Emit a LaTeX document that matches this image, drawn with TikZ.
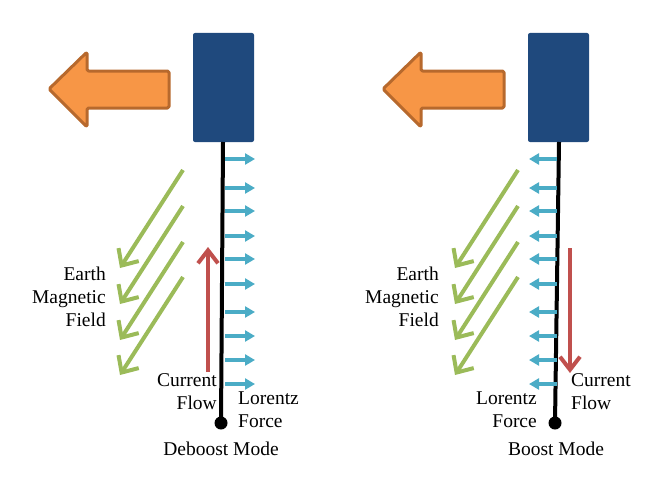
\documentclass[tikz,border=0pt]{standalone}
\usepackage{fontspec}
\setmainfont{Liberation Serif}
\usetikzlibrary{arrows.meta}
\definecolor{boxblue}{HTML}{1F497D}
\definecolor{orfill}{HTML}{F79646}
\definecolor{ordraw}{HTML}{B7692D}
\definecolor{forceblue}{HTML}{4BACC6}
\definecolor{fieldgreen}{HTML}{9BBB59}
\definecolor{curred}{HTML}{C0504D}
\tikzset{
  sat/.style={draw=none, fill=boxblue, rounded corners=2pt, minimum width=61pt, minimum height=109pt, inner sep=0},
  tether/.style={line width=4pt, black},
  thrust/.style={fill=orfill, draw=ordraw, line width=3pt, line join=round, rounded corners=1.5pt},
  force/.style={forceblue, line width=3.5pt, -{Triangle[length=10pt,width=11pt]}},
  field/.style={fieldgreen, line width=4pt, -{Straight Barb[length=13pt,width=24pt,line width=4pt]}},
  current/.style={curred, line width=4pt, -{Straight Barb[length=13pt,width=20pt,line width=4pt]}},
  lbl/.style={font=\fontsize{19.5}{23}\selectfont, inner sep=0pt},
}
\begin{document}
\begin{tikzpicture}[x=1pt,y=-1pt]
\useasboundingbox (0,0) rectangle (660,495);
% ---------------- Left panel (Deboost) ----------------
\node[sat] (Lsat) at (223.5,87.5) {};
\coordinate (Ltop) at (223,142);
\coordinate (Lbot) at (221,423);
\draw[tether] (Ltop) -- (Lbot);
\node[circle, fill=black, minimum size=13pt, inner sep=0] (Ldot) at (Lbot) {};
\draw[thrust] (49,89) -- (87,52) -- (87,71) -- (169,71) -- (169,108) -- (87,108) -- (87,127) -- cycle;
\foreach \y in {159,188,211,236,259,284,312,336,360,384}{
  \coordinate (Lf\y) at (225,\y);
  \coordinate (Lfe\y) at (255,\y);
  \draw[force] (Lf\y) -- (Lfe\y);
}
\foreach \i/\s in {1/170,2/206,3/242,4/277}{
  \coordinate (Lgs\i) at (183,\s);
  \coordinate (Lge\i) at (120,\s+98);
  \draw[field] (Lgs\i) -- (Lge\i);
}
\coordinate (Lrs) at (208,372);
\coordinate (Lre) at (208,247);
\draw[current] (Lrs) -- (Lre);
\node[lbl, align=right, anchor=east] (Learth) at (106,297) {Earth\\Magnetic\\Field};
\node[lbl, align=right, anchor=east] (Lcur) at (217,392) {Current\\Flow};
\node[lbl, align=left, anchor=west] (Llor) at (238,410) {Lorentz\\Force};
\node[lbl] (Lmode) at (221,449) {Deboost Mode};
% ---------------- Right panel (Boost) ----------------
\node[sat] (Rsat) at (558.5,87.5) {};
\coordinate (Rtop) at (559,142);
\coordinate (Rbot) at (555,423);
\draw[tether] (Rtop) -- (Rbot);
\node[circle, fill=black, minimum size=13pt, inner sep=0] (Rdot) at (Rbot) {};
\draw[thrust] (383,89) -- (421,52) -- (421,71) -- (504,71) -- (504,108) -- (421,108) -- (421,127) -- cycle;
\foreach \y in {159,188,211,236,259,284,312,336,360,384}{
  \coordinate (Rf\y) at (557,\y);
  \coordinate (Rfe\y) at (529,\y);
  \draw[force] (Rf\y) -- (Rfe\y);
}
\foreach \i/\s in {1/170,2/206,3/242,4/277}{
  \coordinate (Rgs\i) at (518,\s);
  \coordinate (Rge\i) at (455,\s+98);
  \draw[field] (Rgs\i) -- (Rge\i);
}
\coordinate (Rrs) at (570,248);
\coordinate (Rre) at (570,373);
\draw[current] (Rrs) -- (Rre);
\node[lbl, align=right, anchor=east] (Rearth) at (439,297) {Earth\\Magnetic\\Field};
\node[lbl, align=left, anchor=west] (Rcur) at (571,392) {Current\\Flow};
\node[lbl, align=right, anchor=east] (Rlor) at (537,410) {Lorentz\\Force};
\node[lbl] (Rmode) at (556,449) {Boost Mode};
\end{tikzpicture}
\end{document}
